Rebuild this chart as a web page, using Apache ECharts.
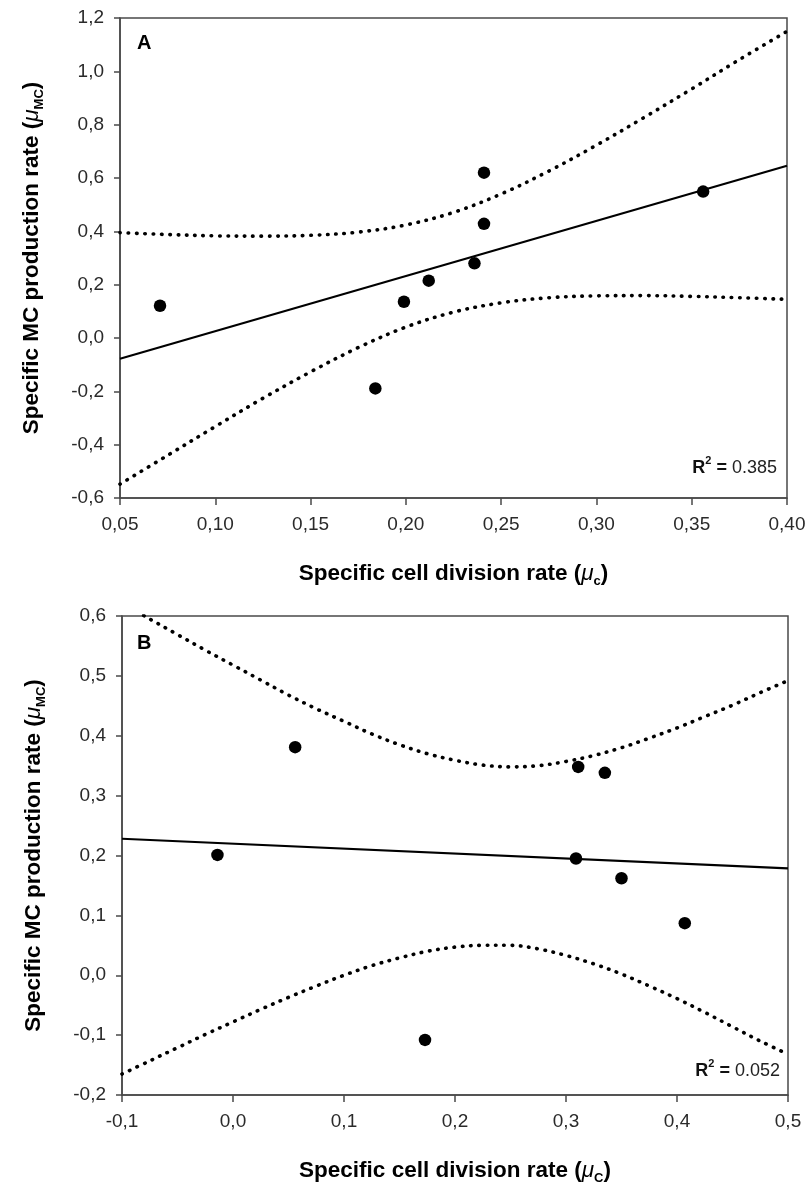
<!DOCTYPE html>
<html>
<head>
<meta charset="utf-8">
<script src="https://cdn.jsdelivr.net/npm/echarts@6/dist/echarts.min.js"></script>
<style>
html,body{margin:0;padding:0;background:#fff;}
#chart{width:810px;height:1186px;}
</style>
</head>
<body>
<div id="chart"></div>
<script>
// ---------- Panel A data ----------
const xA = [0.071, 0.184, 0.199, 0.212, 0.236, 0.241, 0.241, 0.356];
const yA = [0.121, -0.189, 0.136, 0.215, 0.280, 0.620, 0.428, 0.549];
const fitXA = [0.05, 0.40];
const fitYA = [-0.078, 0.646];
const bandXA = [0.05, 0.075, 0.10, 0.125, 0.15, 0.175, 0.20, 0.225, 0.25, 0.275, 0.30, 0.325, 0.35, 0.375, 0.40];
const upperA = [0.395, 0.388, 0.383, 0.382, 0.385, 0.397, 0.424, 0.471, 0.540, 0.626, 0.723, 0.827, 0.934, 1.044, 1.150];
const lowerA = [-0.548, -0.440, -0.332, -0.226, -0.127, -0.036, 0.041, 0.097, 0.132, 0.151, 0.158, 0.159, 0.156, 0.151, 0.145];
const xTicksA = ['0,05', '0,10', '0,15', '0,20', '0,25', '0,30', '0,35', '0,40'];
const yTicksA = ['-0,6', '-0,4', '-0,2', '0,0', '0,2', '0,4', '0,6', '0,8', '1,0', '1,2'];

// ---------- Panel B data ----------
const xB = [-0.014, 0.056, 0.173, 0.309, 0.311, 0.335, 0.350, 0.407];
const yB = [0.201, 0.381, -0.108, 0.195, 0.348, 0.338, 0.162, 0.087];
const fitXB = [-0.1, 0.5];
const fitYB = [0.228, 0.1785];
const bandXB = [-0.1, -0.075, -0.05, -0.025, 0.0, 0.025, 0.05, 0.075, 0.10, 0.125, 0.15, 0.175, 0.20, 0.225, 0.25, 0.275, 0.30, 0.325, 0.35, 0.375, 0.40, 0.425, 0.45, 0.475, 0.50];
const upperB = [0.622, 0.595, 0.569, 0.543, 0.518, 0.493, 0.468, 0.445, 0.424, 0.403, 0.385, 0.370, 0.359, 0.351, 0.348, 0.350, 0.357, 0.367, 0.380, 0.396, 0.413, 0.432, 0.451, 0.472, 0.492];
const lowerB = [-0.165, -0.143, -0.121, -0.099, -0.078, -0.057, -0.037, -0.018, 0.000, 0.016, 0.029, 0.040, 0.047, 0.050, 0.050, 0.044, 0.033, 0.019, 0.002, -0.018, -0.039, -0.062, -0.086, -0.110, -0.132];
const xTicksB = ['-0,1', '0,0', '0,1', '0,2', '0,3', '0,4', '0,5'];
const yTicksB = ['-0,2', '-0,1', '0,0', '0,1', '0,2', '0,3', '0,4', '0,5', '0,6'];

const r2A = '0.385';
const r2B = '0.052';

// ---------- helpers ----------
const FONT = "'Liberation Sans', Arial, Helvetica, sans-serif";
const zip = (xs, ys) => xs.map((x, i) => [x, ys[i]]);
const axisCol = '#4a4a4a';

const titleRich = {
  b: {fontSize: 22.5, fontWeight: 'bold', fontFamily: FONT, color: '#000', lineHeight: 28, verticalAlign: 'middle'},
  mu: {fontSize: 22.5, fontStyle: 'italic', fontWeight: 'normal', fontFamily: FONT, color: '#000', lineHeight: 28, verticalAlign: 'middle'},
  s: {fontSize: 13, fontWeight: 'bold', fontFamily: FONT, color: '#000', lineHeight: 13, verticalAlign: 'bottom'}
};

function xAxisCfg(grid, min, max, interval, labels, sub) {
  return {
    type: 'value', gridIndex: grid, min: min, max: max, interval: interval,
    axisLine: {show: true, onZero: false, lineStyle: {color: axisCol, width: 1.5}},
    axisTick: {show: true, inside: false, length: 7, lineStyle: {color: axisCol, width: 1.5}},
    splitLine: {show: false},
    axisLabel: {show: true, margin: 17, color: '#2a2a2a', fontSize: 19, fontFamily: FONT,
      showMinLabel: true, showMaxLabel: true,
      formatter: (v, i) => labels[i]},
    name: '{b|Specific cell division rate (}{mu|μ}{s|' + sub + '}{b|)}',
    nameLocation: 'middle', nameGap: 62,
    nameTextStyle: {rich: titleRich}
  };
}
function yAxisCfg(grid, min, max, interval, labels) {
  return {
    type: 'value', gridIndex: grid, min: min, max: max, interval: interval,
    axisLine: {show: true, onZero: false, lineStyle: {color: axisCol, width: 1.5}},
    axisTick: {show: true, inside: false, length: 6, lineStyle: {color: axisCol, width: 1.5}},
    splitLine: {show: false},
    axisLabel: {show: true, margin: 16, color: '#2a2a2a', fontSize: 19, fontFamily: FONT,
      showMinLabel: true, showMaxLabel: true,
      formatter: (v, i) => labels[i]},
    name: '{b|Specific MC production rate (}{mu|μ}{s|MC}{b|)}',
    nameLocation: 'middle', nameGap: 74, nameRotate: 90,
    nameTextStyle: {rich: titleRich}
  };
}
const dotted = {color: '#000', width: 3.6, type: [0.5, 7.8], cap: 'round'};

function panelSeries(gi, xs, ys, fx, fy, bx, up, lo) {
  return [
    {type: 'line', xAxisIndex: gi, yAxisIndex: gi, data: zip(bx, up), smooth: 0.35, symbol: 'none',
      lineStyle: dotted, clip: true, silent: true, z: 2},
    {type: 'line', xAxisIndex: gi, yAxisIndex: gi, data: zip(bx, lo), smooth: 0.35, symbol: 'none',
      lineStyle: dotted, clip: true, silent: true, z: 2},
    {type: 'line', xAxisIndex: gi, yAxisIndex: gi, data: zip(fx, fy), symbol: 'none',
      lineStyle: {color: '#000', width: 2.2}, clip: true, silent: true, z: 3},
    {type: 'scatter', xAxisIndex: gi, yAxisIndex: gi, data: zip(xs, ys), symbol: 'circle', symbolSize: 12.5,
      itemStyle: {color: '#000', opacity: 1}, silent: true, z: 4}
  ];
}

function r2Title(val, right, top) {
  return {
    text: '{r|R}{sup|2}{r| = }{v|' + val + '}',
    right: right, top: top, padding: 0,
    textStyle: {
      fontWeight: 'normal',
      rich: {
        r: {fontSize: 18, fontWeight: 'bold', fontFamily: FONT, color: '#111', lineHeight: 22, verticalAlign: 'bottom'},
        sup: {fontSize: 11, fontWeight: 'bold', fontFamily: FONT, color: '#111', lineHeight: 11, verticalAlign: 'top'},
        v: {fontSize: 18, fontWeight: 'normal', fontFamily: FONT, color: '#222', lineHeight: 22, verticalAlign: 'bottom'}
      }
    }
  };
}

const chart = echarts.init(document.getElementById('chart'), null, {renderer: 'canvas'});
chart.setOption({
  animation: false,
  backgroundColor: '#fff',
  title: [
    {text: 'A', left: 137, top: 33, padding: 0, textStyle: {fontSize: 20, fontWeight: 'bold', fontFamily: FONT, color: '#000'}},
    {text: 'B', left: 137, top: 633, padding: 0, textStyle: {fontSize: 20, fontWeight: 'bold', fontFamily: FONT, color: '#000'}},
    r2Title(r2A, 33, 455),
    r2Title(r2B, 30, 1058)
  ],
  grid: [
    {left: 120, right: 23, top: 18, bottom: 688, show: true, borderColor: axisCol, borderWidth: 1.5, backgroundColor: 'transparent', containLabel: false},
    {left: 122, right: 22, top: 616, bottom: 89, show: true, borderColor: axisCol, borderWidth: 1.5, backgroundColor: 'transparent', containLabel: false}
  ],
  xAxis: [
    xAxisCfg(0, 0.05, 0.40, 0.05, xTicksA, 'c'),
    xAxisCfg(1, -0.1, 0.5, 0.1, xTicksB, 'C')
  ],
  yAxis: [
    yAxisCfg(0, -0.6, 1.2, 0.2, yTicksA),
    yAxisCfg(1, -0.2, 0.6, 0.1, yTicksB)
  ],
  series: [].concat(
    panelSeries(0, xA, yA, fitXA, fitYA, bandXA, upperA, lowerA),
    panelSeries(1, xB, yB, fitXB, fitYB, bandXB, upperB, lowerB)
  )
});
</script>
</body>
</html>
